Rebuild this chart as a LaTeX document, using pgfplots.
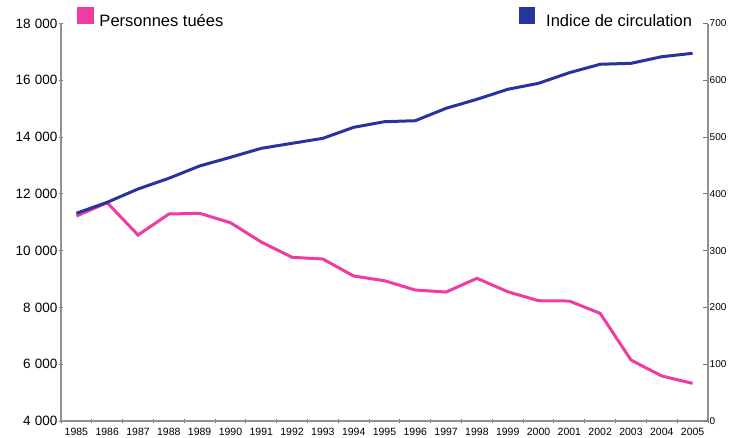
\documentclass[border=0pt]{standalone}
\usepackage{fontspec}
\setmainfont{Liberation Sans}
\usepackage{pgfplots}
\pgfplotsset{compat=1.18}
\definecolor{pinkc}{RGB}{238,60,160}
\definecolor{bluec}{RGB}{38,52,158}
\definecolor{axgray}{RGB}{145,145,145}

\begin{document}
\begin{tikzpicture}
\pgfplotsset{
  base/.style={
    scale only axis, width=647bp, height=397.5bp,
    at={(0,0)}, anchor=south west,
    xmin=1984.5, xmax=2005.5,
    /pgf/number format/assume math mode=true,
    tick style={draw=axgray!80!black, line width=1bp},
    major tick length=5bp,
    clip=false,
  },
  lines/.style={
    axis line style={draw=axgray, line width=2.2bp, -},
    x axis line style={-}, y axis line style={-},
  }
}
\begin{axis}[base,
  axis x line=bottom, axis y line=left, lines,
  ymin=4000, ymax=18000,
  ytick={4000,6000,8000,10000,12000,14000,16000,18000},
  scaled y ticks=false,
  ytick align=center,
  yticklabel style={font=\fontsize{13.5bp}{15bp}\selectfont, inner sep=1bp,
     /pgf/number format/.cd, fixed, 1000 sep={\hspace{0.3em}}},
  xtick={1984.5,1985.5,1986.5,1987.5,1988.5,1989.5,1990.5,1991.5,1992.5,1993.5,1994.5,
         1995.5,1996.5,1997.5,1998.5,1999.5,2000.5,2001.5,2002.5,2003.5,2004.5,2005.5},
  xticklabels={1985,1986,1987,1988,1989,1990,1991,1992,1993,1994,1995,1996,1997,1998,
               1999,2000,2001,2002,2003,2004,2005,{}},
  xtick align=center,
  xticklabel style={font=\fontsize{10.5bp}{12bp}\selectfont, xshift=15.4bp, yshift=-2.5bp, inner sep=1.5bp},
  legend style={draw=none, fill=none, at={(0,1)}, anchor=south west,
     xshift=16bp, yshift=-4.5bp, inner sep=0pt, outer sep=0pt, column sep=6bp,
     nodes={inner sep=0pt, font=\fontsize{16.5bp}{18bp}\selectfont}},
  legend image code/.code={\fill[pinkc] (0bp,-1bp) rectangle (13.5bp,12.5bp);},
]
\addplot[pinkc, line width=3bp] coordinates {
(1985,11219) (1986,11688) (1987,10550) (1988,11290) (1989,11315) (1990,10983)
(1991,10304) (1992,9765) (1993,9705) (1994,9106) (1995,8940) (1996,8613)
(1997,8542) (1998,9025) (1999,8553) (2000,8236) (2001,8225) (2002,7792)
(2003,6147) (2004,5584) (2005,5326)};
\addlegendentry{Personnes tuées}
\end{axis}
\begin{axis}[base,
  axis x line=none, axis y line=right, lines,
  ymin=0, ymax=700,
  ytick={0,100,200,300,400,500,600,700},
  ytick align=inside,
  yticklabel style={font=\fontsize{10bp}{12bp}\selectfont, inner sep=1.5bp},
  legend style={draw=none, fill=none, at={(1,1)}, anchor=south east,
     xshift=-16bp, yshift=-4.5bp, inner sep=0pt, outer sep=0pt, column sep=11bp,
     nodes={inner sep=0pt, font=\fontsize{16.5bp}{18bp}\selectfont}},
  legend image code/.code={\fill[bluec] (0bp,-1bp) rectangle (13.5bp,12.5bp);},
]
\addplot[bluec, line width=3bp] coordinates {
(1985,365.8) (1986,385.1) (1987,408.6) (1988,427.4) (1989,449.1) (1990,464.4)
(1991,480.2) (1992,489.0) (1993,497.8) (1994,517.2) (1995,527.1) (1996,528.8)
(1997,550.7) (1998,566.5) (1999,584.1) (2000,594.7) (2001,613.4) (2002,628.2)
(2003,629.9) (2004,641.5) (2005,647.5)};
\addlegendentry{Indice de circulation}
\end{axis}
\pgfresetboundingbox
\path (-61bp,-17bp) rectangle (673bp,421bp);
\end{tikzpicture}
\end{document}
